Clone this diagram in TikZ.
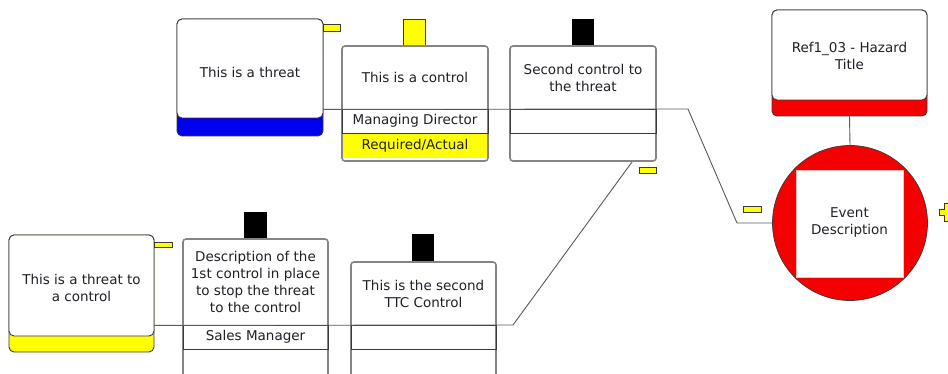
\documentclass[tikz,border=0pt]{standalone}
\usepackage{fontspec}
\setmainfont{DejaVu Sans}
\definecolor{tdark}{HTML}{3A3A3A}
\definecolor{cgray}{HTML}{858585}
\definecolor{lgray}{HTML}{5A5A5A}
\definecolor{txt}{HTML}{202028}
\definecolor{bowblue}{HTML}{0000F0}
\definecolor{bowred}{HTML}{F50000}
\definecolor{bowyellow}{HTML}{FFFF00}
\begin{document}
\begin{tikzpicture}[x=1pt,y=-1pt,
  font=\fontsize{13.5}{17}\selectfont, text=txt,
  band/.style={draw=tdark, line width=0.9pt, rounded corners=5pt},
  threatbody/.style={draw=tdark, line width=0.9pt, fill=white, rounded corners=5pt,
    minimum width=146pt, align=center, inner sep=0pt},
  ctlbox/.style={draw=cgray, line width=1.6pt, fill=white, rounded corners=3pt,
    minimum width=146pt, inner sep=0pt},
  rowbox/.style={draw=tdark, line width=0.8pt},
  lbl/.style={align=center, inner sep=0pt},
  tab/.style={draw=tdark, line width=0.7pt},
  link/.style={draw=lgray, line width=0.9pt}]
\useasboundingbox (0,0) rectangle (948,374);
\clip (0,0) rectangle (948,374);

% ---------- upper threat line ----------
\filldraw[band, fill=bowblue] (177,19) rectangle (323,136);
\node (t1) [threatbody, minimum height=99pt] at (250,68.5) {};
\node (t1l) [lbl] at (250,72) {This is a threat};
\filldraw[tab, fill=bowyellow] (323,24) rectangle (340,31);

% control 1
\filldraw[tab, fill=bowyellow] (403,19) rectangle (425,46);
\node (c1) [ctlbox, minimum height=115pt] at (415,103.5) {};
\node (c1l) [lbl] at (415,77) {This is a control};
\fill[bowyellow] (343,133) rectangle (487,158.5);
\draw[rowbox] (342,109) rectangle (488,133);
\node (c1o) [lbl] at (415,121) {Managing Director};
\node (c1e) [lbl] at (415,145.5) {Required/Actual};

% control 2
\fill (572,19) rectangle (594,46);
\node (c2) [ctlbox, minimum height=115pt] at (583,103.5) {};
\node (c2l) [lbl] at (583,77.5) {Second control to\\the threat};
\draw[rowbox] (510,109) rectangle (656,133);
\filldraw[tab, fill=bowyellow] (639,167) rectangle (656,173);

% ---------- hazard and top event ----------
\filldraw[band, fill=bowred] (772,10) rectangle (927,116);
\node (hz) [threatbody, minimum width=155pt, minimum height=90pt] at (849.5,55) {};
\node (hzl) [lbl] at (849.5,56) {Ref1\_03 - Hazard\\Title};

\node (ev) [circle, fill=bowred, draw=tdark, line width=0.7pt, minimum size=155pt, inner sep=0pt] at (850,223) {};
\node (evb) [rectangle, fill=white, draw=red!25, line width=0.8pt, minimum size=107pt, inner sep=0pt] at (849.5,223.5) {};
\node (evl) [lbl] at (849.5,222) {Event\\Description};

\draw[link] ([yshift=-16pt]hz.south) -- (ev.north);
\filldraw[tab, fill=bowyellow] (743,206) rectangle (761,212);
\filldraw[tab, fill=bowyellow]
  (939,209) -- (944,209) -- (944,203) -- (951,203) -- (951,209) -- (956,209)
  -- (956,215) -- (951,215) -- (951,221) -- (944,221) -- (944,215) -- (939,215) -- cycle;

% ---------- threat to a control ----------
\filldraw[band, fill=bowyellow] (9,235) rectangle (154,352);
\node (t2) [threatbody, minimum width=145pt, minimum height=101pt] at (81.5,285.5) {};
\node (t2l) [lbl] at (81.5,287.5) {This is a threat to\\a control};
\filldraw[tab, fill=bowyellow] (154,242) rectangle (172,247);

% escalation factor control 1
\fill (244,212) rectangle (267,239);
\node (b1) [ctlbox, minimum width=145pt, minimum height=151pt] at (255.5,314.5) {};
\node (b1l) [lbl] at (255.5,282) {Description of the\\1st control in place\\to stop the threat\\to the control};
\draw[rowbox] (183,325) rectangle (328,349);
\node (b1o) [lbl] at (255.5,337) {Sales Manager};

% escalation factor control 2
\fill (412,234) rectangle (434,262);
\node (b2) [ctlbox, minimum width=145pt, minimum height=128pt] at (423.5,326) {};
\node (b2l) [lbl] at (423.5,294) {This is the second\\TTC Control};
\draw[rowbox] (351,325) rectangle (496,349);

% ---------- connectors ----------
\coordinate (j1) at (688,109);
\coordinate (j2) at (737,223);
\draw[link] ([yshift=9pt]t1.south east) -- (j1) -- (j2) -- (ev.west);

\coordinate (j3) at (513,325);
\coordinate (j4) at (632,162);
\draw[link] ([yshift=11pt]t2.south east) -- (j3) -- (j4);
\end{tikzpicture}
\end{document}
